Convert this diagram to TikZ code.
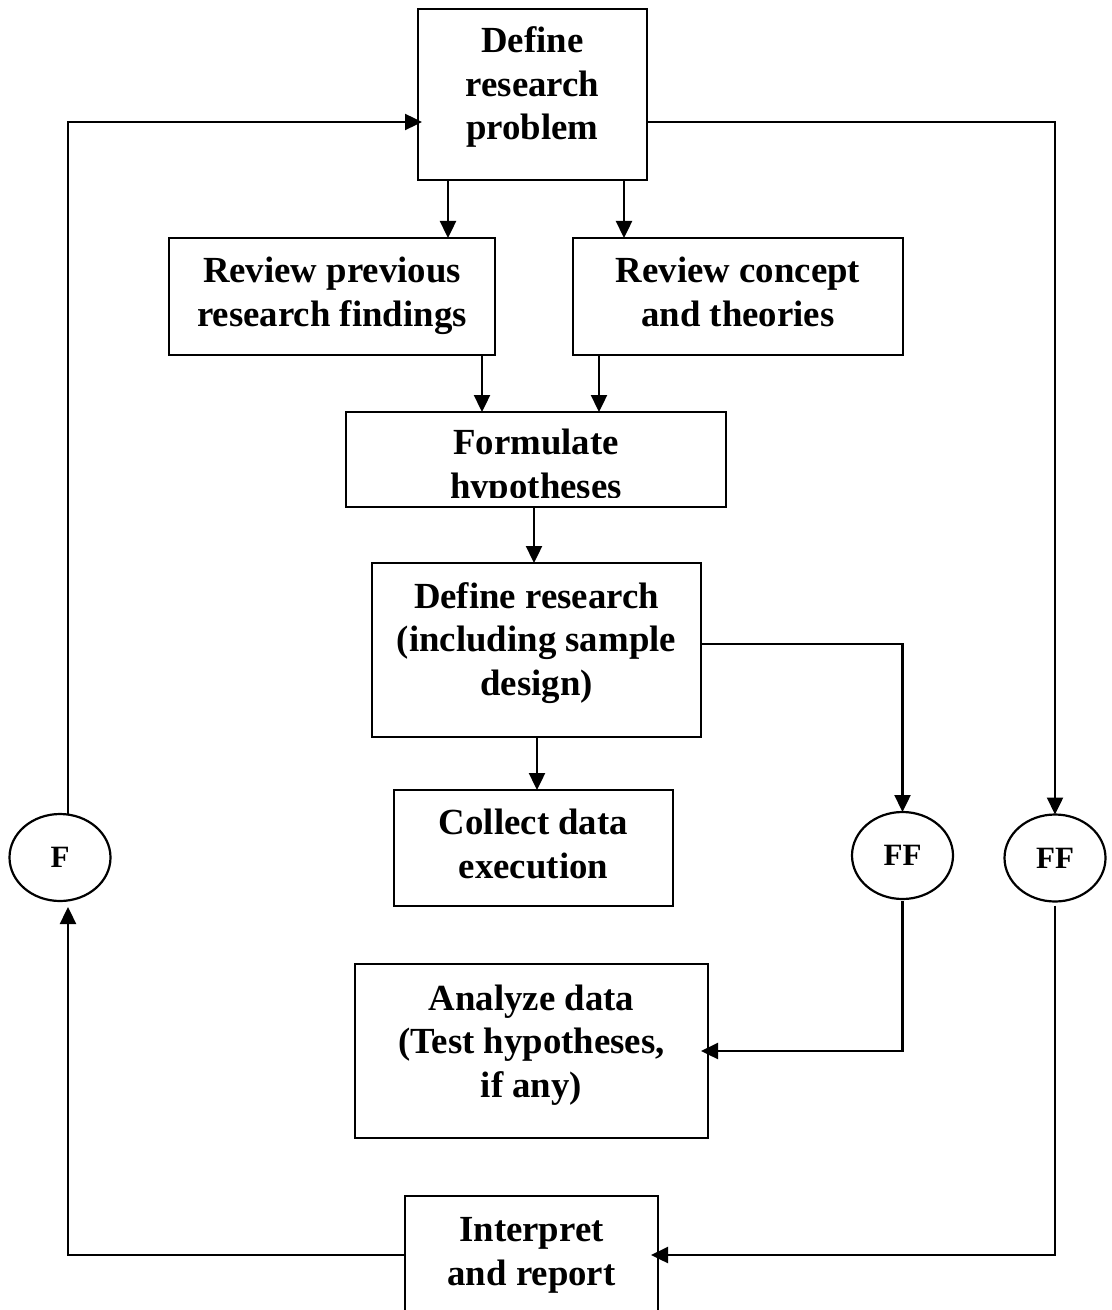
\documentclass[tikz,border=0pt]{standalone}
\usepackage{fontspec}
\setmainfont{Liberation Serif}
\usetikzlibrary{arrows.meta,shapes.geometric}
\begin{document}
\begin{tikzpicture}[x=0.5pt,y=-0.5pt,
  box/.style={draw,line width=1.1pt,rectangle,inner sep=0pt,outer sep=0pt},
  txt/.style={align=center,inner sep=0pt,outer sep=0pt,font=\fontsize{18.4}{21.75}\selectfont\bfseries},
  circ/.style={draw,line width=1.1pt,ellipse,inner sep=0pt,outer sep=0pt,minimum width=50.5pt,minimum height=43.5pt,font=\fontsize{15.5}{18}\selectfont\bfseries},
  arr/.style={line width=1.2pt,-{Triangle[length=8.5pt,width=8pt]}},
  ln/.style={line width=1.2pt}]
\useasboundingbox (0,0) rectangle (1112,1310);
\clip (0,0) rectangle (1112,1310);

% boxes
\node[box,minimum width=114.5pt,minimum height=85.5pt] (def) at (532.5,94.5) {};
\node[txt] (def-t) at (532.5,87.8) {\strut Define\\\strut research\\\strut problem};

\node[box,minimum width=163pt,minimum height=58.5pt] (rp) at (332,296.5) {};
\node[txt] (rp-t) at (332,296) {\strut Review previous\\\strut research findings};

\node[box,minimum width=165pt,minimum height=58.5pt] (rc) at (738,296.5) {};
\node[txt] (rc-t) at (738,296) {\strut Review concept\\\strut and theories};

\node[box,minimum width=190pt,minimum height=47.5pt] (form) at (536,459.5) {};
\begin{scope}
  \clip (340,405) rectangle (730,497);
  \node[txt] (form-t) at (536,468) {\strut Formulate\\\strut hypotheses};
\end{scope}

\node[box,minimum width=164.5pt,minimum height=87pt] (dr) at (536.5,650) {};
\node[txt] (dr-t) at (536.5,643) {\strut Define research\\\strut (including sample\\\strut design)};

\node[box,minimum width=139.5pt,minimum height=58pt] (col) at (533.5,848) {};
\node[txt] (col-t) at (533.5,848) {\strut Collect data\\\strut execution};

\node[box,minimum width=176.5pt,minimum height=87pt] (ana) at (531.5,1051) {};
\node[txt] (ana-t) at (531.5,1045) {\strut Analyze data\\\strut (Test hypotheses,\\\strut if any)};

\node[box,minimum width=126.5pt,minimum height=67pt] (int) at (531.5,1263) {};
\node[txt] (int-t) at (531.5,1255) {\strut Interpret\\\strut and report};

% circles
\node[circ] (F) at (60,857.5) {F};
\node[circ] (ff1) at (902.5,855.5) {FF};
\node[circ] (ff2) at (1055,858) {FF};

% helper coordinates
\coordinate (xA) at (448,0);
\coordinate (xB) at (624,0);
\coordinate (xC) at (482,0);
\coordinate (xD) at (599,0);
\coordinate (xE) at (534,0);
\coordinate (xF) at (537,0);
\coordinate (xL) at (68,0);
\coordinate (yG) at (0,644);
\coordinate (yH) at (0,122);
\coordinate (yI) at (0,1255);

% connectors
\draw[arr] (xA |- def.south) -- (xA |- rp.north);
\draw[arr] (xB |- def.south) -- (xB |- rc.north);
\draw[arr] (xC |- rp.south) -- (xC |- form.north);
\draw[arr] (xD |- rc.south) -- (xD |- form.north);
\draw[arr] (xE |- form.south) -- (xE |- dr.north);
\draw[arr] (xF |- dr.south) -- (xF |- col.north);

\draw[arr] (yG -| dr.east) -| (ff1.north);
\draw[arr] ([yshift=-1pt]ff1.south) |- ([xshift=-3.5pt]ana.east);

\draw[arr] (yH -| def.east) -| (ff2.north);
\draw[arr] ([yshift=-2pt]ff2.south) -- (ff2.south |- yI) -- ([xshift=-3.5pt]yI -| int.east);

\draw[arr] (yI -| int.west) -- (xL |- yI) -- ([yshift=-3pt]xL |- F.south);
\draw[arr] (xL |- F.north) -- (xL |- yH) -- ([xshift=2pt]yH -| def.west);
\end{tikzpicture}
\end{document}
